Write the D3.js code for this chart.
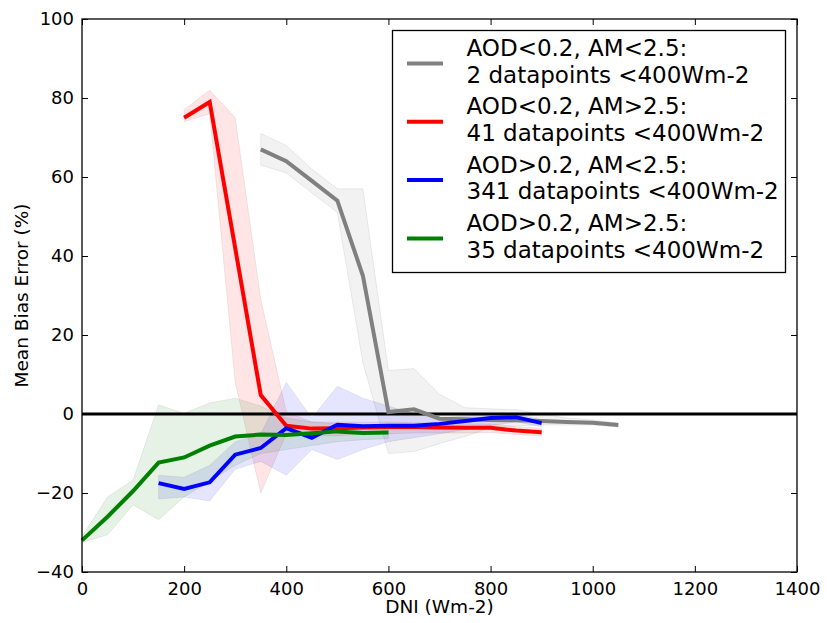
<!DOCTYPE html>
<html>
<head>
<meta charset="utf-8">
<script src="https://cdn.jsdelivr.net/npm/d3@7"></script>
<style>
  body { margin: 0; background: #fff; }
  svg text { font-family: "DejaVu Sans", sans-serif; fill: #000; }
</style>
</head>
<body>
<div id="chart"></div>
<script>
// DNI bins (Wm-2) and mean bias error (%) for each group
var grayX  = [350, 400, 450, 500, 550, 600, 650, 700, 750, 800, 850, 900, 950, 1000, 1050];
var grayY  = [67, 64, 59, 54, 35, 0.5, 1.2, -1.2, -1.3, -1.5, -1.6, -1.8, -2.0, -2.2, -2.8];
var grayHi = [71, 68, 62, 57, 57, 11, 11.5, 5, 1.6, 1.3, 1.1, 0, -1, -1.5, -2.3];
var grayLo = [63, 61, 56, 51, 13, -10, -9.5, -7.5, -5.7, -3.5, -3, -2.8, -2.8, -2.8, -3.3];

var redX  = [200, 250, 300, 350, 400, 450, 500, 550, 600, 650, 700, 750, 800, 850, 900];
var redY  = [75, 79, 42, 4.8, -3, -3.7, -3.6, -3.4, -3.3, -3.3, -3.4, -3.5, -3.5, -4.2, -4.6];
var redHi = [77, 82, 75, 29, 0.5, -2, -2, -2, -2, -2.2, -2.3, -2.5, -2.5, -3.2, -3.6];
var redLo = [74, 76, 8, -20, -5, -5.5, -5.5, -5, -5, -4.8, -4.8, -4.8, -4.7, -5.2, -5.6];

var blueX  = [150, 200, 250, 300, 350, 400, 450, 500, 550, 600, 650, 700, 750, 800, 850, 900];
var blueY  = [-17.5, -19, -17.3, -10.3, -8.6, -3.6, -6, -2.7, -3.1, -3, -3, -2.5, -1.8, -1, -0.8, -2.3];
var blueHi = [-15.5, -16, -13, -7, -5, 8, -1, 7, 4, 2, 0, -1, -0.5, 0, 0, -1.5];
var blueLo = [-21.5, -21, -22, -14, -12, -15.5, -9, -11.5, -9, -7, -6, -5, -4, -3, -2, -3.2];

var greenX  = [0, 50, 100, 150, 200, 250, 300, 350, 400, 450, 500, 550, 600];
var greenY  = [-32, -26, -19.5, -12.3, -11, -8, -5.7, -5.2, -5.3, -4.9, -4.4, -4.8, -4.7];
var greenHi = [-31, -21, -16.7, 2.3, 0.2, 2.8, 4, 2, -1, -2, -2.5, -3, -3.2];
var greenLo = [-32.5, -30.6, -23, -26.8, -21, -17, -13, -10, -9, -8, -7, -6.5, -6.2];

var seriesColors = ["#808080", "#ff0000", "#0000ff", "#008000"];
var legendLines = [
  ["AOD<0.2, AM<2.5:", "2 datapoints <400Wm-2"],
  ["AOD<0.2, AM>2.5:", "41 datapoints <400Wm-2"],
  ["AOD>0.2, AM<2.5:", "341 datapoints <400Wm-2"],
  ["AOD>0.2, AM>2.5:", "35 datapoints <400Wm-2"]
];

var xTicks = [0, 200, 400, 600, 800, 1000, 1200, 1400];
var yTicks = [-40, -20, 0, 20, 40, 60, 80, 100];

var W = 827, H = 623;
var margin = {top: 19, right: 30, bottom: 51, left: 82};

var svg = d3.select("#chart").append("svg")
    .attr("width", W)
    .attr("height", H);

var x = d3.scaleLinear().domain([0, 1400]).range([margin.left, W - margin.right]);
var y = d3.scaleLinear().domain([-40, 100]).range([H - margin.bottom, margin.top]);

function zipSeries(xs, ys, his, los){
  return xs.map(function(d, i){ return {x: d, y: ys[i], hi: his[i], lo: los[i]}; });
}

var series = [
  zipSeries(grayX, grayY, grayHi, grayLo),
  zipSeries(redX, redY, redHi, redLo),
  zipSeries(blueX, blueY, blueHi, blueLo),
  zipSeries(greenX, greenY, greenHi, greenLo)
];

var area = d3.area()
    .x(function(d){ return x(d.x); })
    .y0(function(d){ return y(d.lo); })
    .y1(function(d){ return y(d.hi); });

var line = d3.line()
    .x(function(d){ return x(d.x); })
    .y(function(d){ return y(d.y); });

var plot = svg.append("g");

// shaded spread bands
series.forEach(function(s, i){
  plot.append("path")
    .datum(s)
    .attr("d", area)
    .attr("fill", seriesColors[i])
    .attr("fill-opacity", 0.1)
    .attr("stroke", "#000")
    .attr("stroke-opacity", 0.07)
    .attr("stroke-width", 1);
});

// zero reference line
plot.append("line")
  .attr("x1", x(0)).attr("x2", x(1400))
  .attr("y1", y(0)).attr("y2", y(0))
  .attr("stroke", "#000")
  .attr("stroke-width", 3);

series.forEach(function(s, i){
  plot.append("path")
    .datum(s)
    .attr("d", line)
    .attr("fill", "none")
    .attr("stroke", seriesColors[i])
    .attr("stroke-width", 4)
    .attr("stroke-linejoin", "miter");
});

// axes, ticks pointing inward on all four sides
function styleAxis(g){
  g.select(".domain").remove();
  g.selectAll(".tick line").attr("stroke", "#000").attr("stroke-width", 1);
  g.selectAll(".tick text").style("font-size", "18px").attr("fill", "#000");
}

svg.append("g")
  .attr("transform", "translate(0," + y(-40) + ")")
  .call(d3.axisBottom(x).tickValues(xTicks).tickSize(-6).tickPadding(10).tickFormat(d3.format("d")))
  .call(styleAxis);

svg.append("g")
  .attr("transform", "translate(0," + y(100) + ")")
  .call(d3.axisTop(x).tickValues(xTicks).tickSize(-6).tickFormat(""))
  .call(styleAxis);

svg.append("g")
  .attr("transform", "translate(" + x(0) + ",0)")
  .call(d3.axisLeft(y).tickValues(yTicks).tickSize(-6).tickPadding(8)
    .tickFormat(function(d){ return d < 0 ? "\u2212" + Math.abs(d) : d; }))
  .call(styleAxis);

svg.append("g")
  .attr("transform", "translate(" + x(1400) + ",0)")
  .call(d3.axisRight(y).tickValues(yTicks).tickSize(-6).tickFormat(""))
  .call(styleAxis);

svg.append("rect")
  .attr("x", x(0)).attr("y", y(100))
  .attr("width", x(1400) - x(0))
  .attr("height", y(-40) - y(100))
  .attr("fill", "none")
  .attr("stroke", "#000")
  .attr("stroke-width", 1.3);

// axis labels
svg.append("text")
  .attr("x", (x(0) + x(1400)) / 2)
  .attr("y", 613)
  .attr("text-anchor", "middle")
  .style("font-size", "18.5px")
  .text("DNI (Wm-2)");

svg.append("text")
  .attr("transform", "translate(28," + (y(100) + y(-40)) / 2 + ") rotate(-90)")
  .attr("text-anchor", "middle")
  .style("font-size", "18.5px")
  .text("Mean Bias Error (%)");

// legend
var legend = svg.append("g");
legend.append("rect")
  .attr("x", 392.5).attr("y", 30.5)
  .attr("width", 393).attr("height", 242)
  .attr("fill", "#fff")
  .attr("stroke", "#000")
  .attr("stroke-width", 1.3);

legendLines.forEach(function(lines, i){
  var top = 56 + i * 58.3;
  legend.append("line")
    .attr("x1", 407).attr("x2", 443)
    .attr("y1", top + 7.5).attr("y2", top + 7.5)
    .attr("stroke", seriesColors[i])
    .attr("stroke-width", 4);
  lines.forEach(function(t, j){
    legend.append("text")
      .attr("x", 466.5)
      .attr("y", top + j * 26.7)
      .style("font-size", "23px")
      .text(t);
  });
});
</script>
</body>
</html>
